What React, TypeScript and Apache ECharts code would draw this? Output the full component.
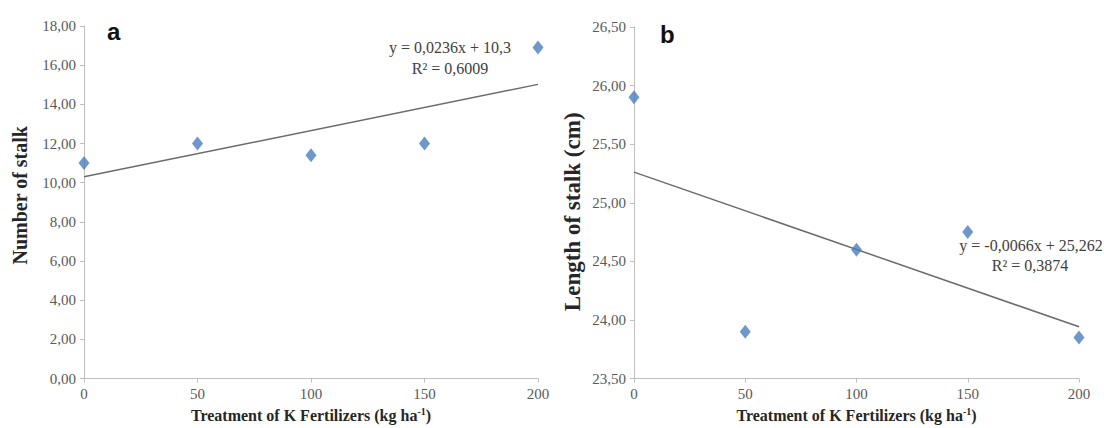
import React, { useEffect, useRef } from "react";
import * as echarts from "echarts";

const doses = [0, 50, 100, 150, 200];
const stalkNumber = [11.0, 12.0, 11.4, 12.0, 16.9];
const stalkLength = [25.9, 23.9, 24.6, 24.75, 23.85];
const trendA = { slope: 0.0236, intercept: 10.3, r2: "0,6009" };
const trendB = { slope: -0.0066, intercept: 25.262, r2: "0,3874" };
const xTicks = { min: 0, max: 200, interval: 50 };
const yTicksA = { min: 0, max: 18, interval: 2 };
const yTicksB = { min: 23.5, max: 26.5, interval: 0.5 };

const serif = "'Liberation Serif', 'Times New Roman', serif";
const fmt = (v: number) => v.toFixed(2).replace(".", ",");

export default function App() {
  const ref = useRef<HTMLDivElement>(null);
  useEffect(() => {
    if (!ref.current) return;
    const chart = echarts.init(ref.current, null, { renderer: "svg" });
    const axisLine = { lineStyle: { color: "#bfbfbf", width: 1 } };
    const xName = "Treatment of K Fertilizers (kg ha{sup|-1})";
    const nameStyle = (size: number) => ({
      fontFamily: serif,
      fontWeight: "bold" as const,
      fontSize: size,
      color: "#262626",
      rich: {
        sup: { fontSize: Math.round(size * 0.6), verticalAlign: "top", fontFamily: serif, fontWeight: "bold", color: "#262626", padding: [0, 0, 7, 0] },
      },
    });
    const labelStyle = { fontFamily: serif, fontSize: 15, color: "#595959" };
    const xAxis = (gi: number) => ({
      type: "value",
      gridIndex: gi,
      min: xTicks.min,
      max: xTicks.max,
      interval: xTicks.interval,
      name: xName,
      nameLocation: "middle",
      nameGap: 26,
      nameTextStyle: nameStyle(16),
      axisLine,
      axisTick: { show: true, length: 4, lineStyle: { color: "#bfbfbf" } },
      axisLabel: { ...labelStyle, margin: 8 },
      splitLine: { show: false },
    });
    const line = (t: { slope: number; intercept: number }) =>
      [xTicks.min, xTicks.max].map((x) => [x, t.intercept + t.slope * x]);
    const eqText = (t: { slope: number; intercept: number }) =>
      `y = ${String(t.slope).replace(".", ",")}x + ${String(t.intercept).replace(".", ",")}`;

    chart.setOption({
      animation: false,
      grid: [
        { left: 84, right: 566, top: 26, bottom: 46 },
        { left: 634, right: 25, top: 27, bottom: 44 },
      ],
      xAxis: [xAxis(0), xAxis(1)],
      yAxis: [
        {
          type: "value",
          gridIndex: 0,
          min: yTicksA.min,
          max: yTicksA.max,
          interval: yTicksA.interval,
          name: "Number of stalk",
          nameLocation: "middle",
          nameGap: 54,
          nameTextStyle: { ...nameStyle(20), padding: [0, 0, 0, 14] },
          axisLine: { show: true, ...axisLine },
          axisTick: { show: true, length: 4, lineStyle: { color: "#bfbfbf" } },
          axisLabel: { ...labelStyle, margin: 8, formatter: fmt },
          splitLine: { show: false },
        },
        {
          type: "value",
          gridIndex: 1,
          min: yTicksB.min,
          max: yTicksB.max,
          interval: yTicksB.interval,
          name: "Length of stalk (cm)",
          nameLocation: "middle",
          nameGap: 50,
          nameTextStyle: { ...nameStyle(23), padding: [0, 18, 0, 0] },
          axisLine: { show: true, ...axisLine },
          axisTick: { show: true, length: 4, lineStyle: { color: "#bfbfbf" } },
          axisLabel: { ...labelStyle, margin: 8, formatter: fmt },
          splitLine: { show: false },
        },
      ],
      series: [
        {
          type: "line",
          xAxisIndex: 0,
          yAxisIndex: 0,
          data: line(trendA),
          showSymbol: false,
          lineStyle: { color: "#6b6b6b", width: 1.5 },
          silent: true,
          z: 1,
        },
        {
          type: "scatter",
          xAxisIndex: 0,
          yAxisIndex: 0,
          data: doses.map((d, i) => [d, stalkNumber[i]]),
          symbol: "diamond",
          symbolSize: [11, 14],
          itemStyle: { color: "#4a7ebb" },
          z: 3,
        },
        {
          type: "line",
          xAxisIndex: 1,
          yAxisIndex: 1,
          data: line(trendB),
          showSymbol: false,
          lineStyle: { color: "#6b6b6b", width: 1.5 },
          silent: true,
          z: 1,
        },
        {
          type: "scatter",
          xAxisIndex: 1,
          yAxisIndex: 1,
          data: doses.map((d, i) => [d, stalkLength[i]]),
          symbol: "diamond",
          symbolSize: [11, 14],
          itemStyle: { color: "#4a7ebb" },
          z: 3,
        },
      ],
      graphic: [
        { type: "text", x: 107, y: 19, style: { text: "a", font: "bold 24px 'Liberation Sans'", fill: "#111" } },
        { type: "text", x: 660, y: 22, style: { text: "b", font: "bold 24px 'Liberation Sans'", fill: "#111" } },
        { type: "text", x: 450, y: 47, style: { text: eqText(trendA), font: `16px ${serif}`, fill: "#404040", align: "center", verticalAlign: "middle" } },
        { type: "text", x: 450, y: 68, style: { text: `R² = ${trendA.r2}`, font: `16px ${serif}`, fill: "#404040", align: "center", verticalAlign: "middle" } },
        { type: "text", x: 1031, y: 245, style: { text: eqText(trendB), font: `16px ${serif}`, fill: "#404040", align: "center", verticalAlign: "middle" } },
        { type: "text", x: 1030, y: 265, style: { text: `R² = ${trendB.r2}`, font: `16px ${serif}`, fill: "#404040", align: "center", verticalAlign: "middle" } },
      ],
    });
    return () => chart.dispose();
  }, []);
  return <div ref={ref} style={{ width: 1104, height: 428, position: "absolute", left: 0, top: 0 }} />;
}
